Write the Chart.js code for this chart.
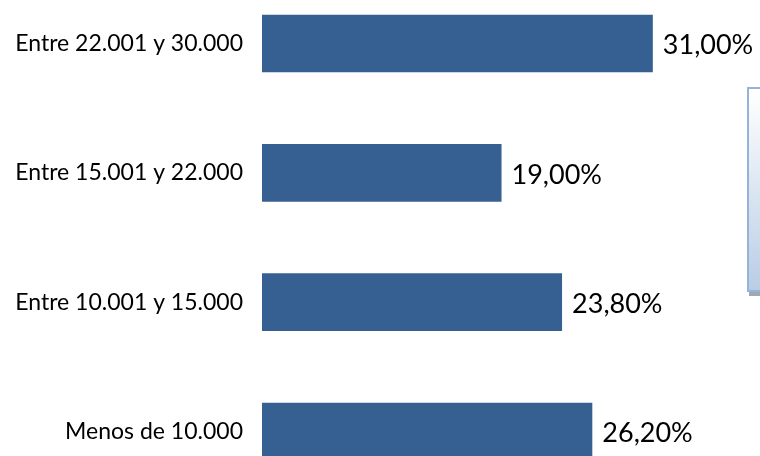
<!DOCTYPE html>
<html>
<head>
<meta charset="utf-8">
<script src="https://cdn.jsdelivr.net/npm/chart.js@4/dist/chart.umd.min.js"></script>
<style>
  html, body { margin: 0; padding: 0; background: #fff; overflow: hidden; }
  #wrap { position: relative; width: 760px; height: 456px; overflow: hidden; }
  #holder { position: absolute; left: 0; top: -54px; width: 760px; height: 583px; }
  /* empty legend box, clipped at the right edge */
  #legendBox {
    position: absolute; left: 747px; top: 87px; width: 30px; height: 201px;
    border: 2px solid #95b3d7;
    background: linear-gradient(to bottom, #ffffff, #b9cde5);
    box-shadow: 2px 4px 0 #a0a8b4;
  }
</style>
</head>
<body>
<div id="wrap">
  <div id="holder"><canvas id="chart" width="760" height="583"></canvas></div>
  <div id="legendBox"></div>
</div>
<script>
const categories = ['Entre 22.001 y 30.000', 'Entre 15.001 y 22.000', 'Entre 10.001 y 15.000', 'Menos de 10.000'];
const values = [31.0, 19.0, 23.8, 26.2];
const labels = ['31,00%', '19,00%', '23,80%', '26,20%'];

// draws the value labels just past the end of each bar
const valueLabels = {
  id: 'valueLabels',
  afterDatasetsDraw(chart) {
    const ctx = chart.ctx;
    const meta = chart.getDatasetMeta(0);
    ctx.save();
    ctx.font = '27px Lato';
    ctx.fillStyle = '#000';
    ctx.textBaseline = 'middle';
    ctx.textAlign = 'left';
    meta.data.forEach((bar, i) => {
      ctx.fillText(labels[i], bar.x + 10, bar.y + 2);
    });
    ctx.restore();
  }
};

const ctx = document.getElementById('chart').getContext('2d');
new Chart(ctx, {
  type: 'bar',
  data: {
    labels: categories,
    datasets: [{
      data: values,
      backgroundColor: '#376092',
      borderWidth: 0,
      categoryPercentage: 1,
      barPercentage: 0.446
    }]
  },
  options: {
    indexAxis: 'y',
    responsive: false,
    animation: false,
    layout: { padding: 0 },
    plugins: { legend: { display: false }, tooltip: { enabled: false } },
    scales: {
      x: { display: false, min: 0, max: 39.5 },
      y: {
        grid: { display: false, drawTicks: false },
        border: { display: false },
        ticks: { color: '#000', font: { family: 'Lato', size: 23 }, padding: 19 },
        afterFit(scale) { scale.width = 262; }
      }
    }
  },
  plugins: [valueLabels]
});
</script>
</body>
</html>
